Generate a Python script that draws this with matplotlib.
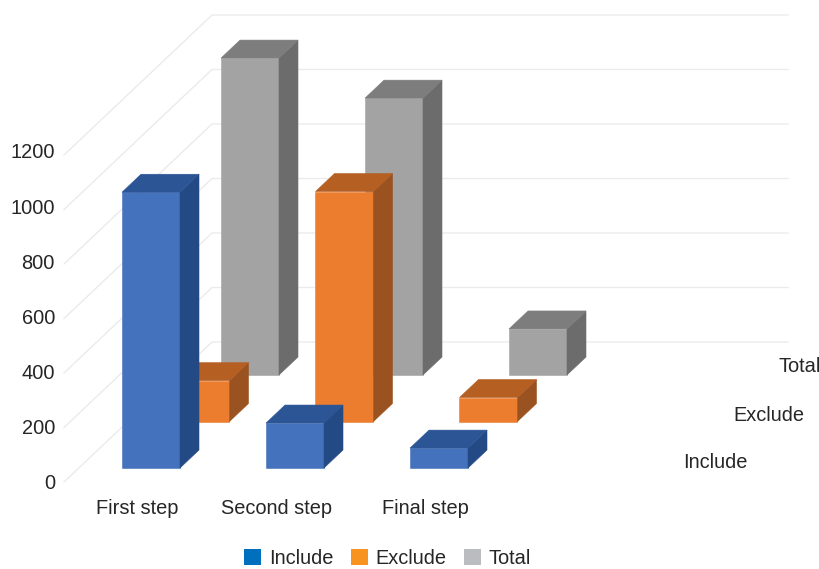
import matplotlib
matplotlib.use("Agg")
import matplotlib.pyplot as plt
from matplotlib.patches import Polygon, Patch

plt.rcParams["font.family"] = ["Liberation Sans", "DejaVu Sans"]

# Chart data
categories = ["First step", "Second step", "Final step"]
series_names = ["Include", "Exclude", "Total"]
include_values = [1012, 165, 73]
exclude_values = [150, 844, 88]
total_values = [1163, 1016, 169]
value_ticks = [0, 200, 400, 600, 800, 1000, 1200]

# Colours: front, side, top of each column, then the legend swatch
palette = {
    "Include": ("#4472BC", "#234A85", "#2C5596", "#0070BE"),
    "Exclude": ("#ED7D2E", "#9A5320", "#B55F23", "#F7931E"),
    "Total": ("#A3A3A3", "#6C6C6C", "#7D7D7D", "#BBBCC0"),
}
TEXT = "#262626"
GRID = "#EBEBEB"

# Oblique projection of (category, series, value) onto the canvas
ORIGIN_X, ORIGIN_Y = 122.0, 468.0
CAT_STEP = 144.0
SER_DX, SER_DY = 49.5, -46.5
PX_PER_UNIT = 0.2725
LABEL_PX_PER_UNIT = 0.2755
BAR_W = 58.0
BAR_DX, BAR_DY = 19.0, -18.0
FLOOR_X, FLOOR_Y = 64.0, 482.0
WALL_DX, WALL_DY = 148.0, -140.0
WALL_END = 788.0


def project(cat, ser, value):
    x = ORIGIN_X + cat * CAT_STEP + ser * SER_DX
    y = ORIGIN_Y + ser * SER_DY - value * PX_PER_UNIT
    return x, y


def draw_column(ax, cat, ser, value, colors, z):
    front, side, top = colors
    x, y0 = project(cat, ser, 0)
    _, y1 = project(cat, ser, value)
    x1 = x + BAR_W
    faces = [
        ([(x, y0), (x1, y0), (x1, y1), (x, y1)], front),
        ([(x1, y0), (x1 + BAR_DX, y0 + BAR_DY), (x1 + BAR_DX, y1 + BAR_DY), (x1, y1)], side),
        ([(x, y1), (x1, y1), (x1 + BAR_DX, y1 + BAR_DY), (x + BAR_DX, y1 + BAR_DY)], top),
    ]
    for pts, color in faces:
        ax.add_patch(Polygon(pts, closed=True, facecolor=color, edgecolor=color,
                             linewidth=0.4, zorder=z))


fig = plt.figure(figsize=(8.2, 5.69), dpi=100)
ax = fig.add_axes([0, 0, 1, 1])
ax.set_xlim(0, 820)
ax.set_ylim(569, 0)
ax.axis("off")

# Value gridlines running along the side wall and the back wall
for tick in value_ticks:
    y = FLOOR_Y - tick * PX_PER_UNIT
    ax.plot([FLOOR_X, FLOOR_X + WALL_DX, WALL_END],
            [y, y + WALL_DY, y + WALL_DY],
            color=GRID, lw=1.0, zorder=1, solid_joinstyle="miter")
    ax.text(55, 483.5 - tick * LABEL_PX_PER_UNIT, str(tick), ha="right", va="center",
            fontsize=14.4, color=TEXT)

# Columns, back row first so nearer rows overlap them
rows = [include_values, exclude_values, total_values]
for ser in reversed(range(len(series_names))):
    for cat, value in enumerate(rows[ser]):
        draw_column(ax, cat, ser, value, palette[series_names[ser]][:3], 2 + (2 - ser))

# Category labels under the floor
for label, xc in zip(categories, [137, 277, 425.5]):
    ax.text(xc, 509, label, ha="center", va="center", fontsize=14.4, color=TEXT)

# Depth-axis labels beside the floor
for label, xl, yc in zip(series_names, [683, 733, 779], [462, 415, 366]):
    ax.text(xl, yc, label, ha="left", va="center", fontsize=14.4, color=TEXT)

# Legend sits just above the bottom edge so its text stays fully on the canvas
handles = [Patch(facecolor=palette[n][3], edgecolor="none", label=n) for n in series_names]
ax.legend(handles=handles, loc="center", bbox_to_anchor=(387.5, 558), bbox_transform=ax.transData,
          ncol=3, frameon=False, fontsize=14.4, labelcolor=TEXT,
          handlelength=0.85, handleheight=0.85, handletextpad=0.38,
          columnspacing=0.88, borderpad=0, borderaxespad=0)

fig.savefig("out.png", dpi=100)
